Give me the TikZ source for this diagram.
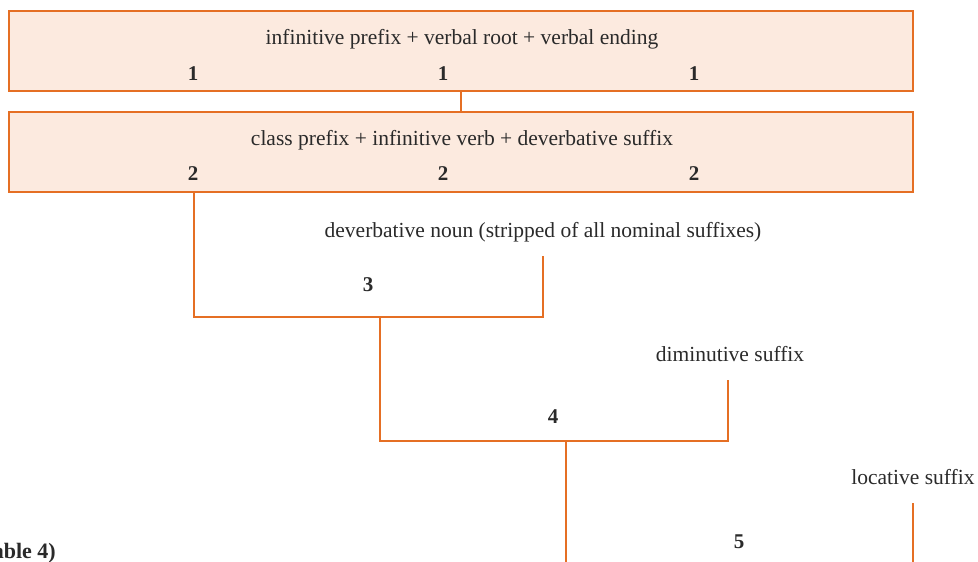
\documentclass[tikz,border=0pt]{standalone}
\usepackage{fontspec}
\setmainfont{Liberation Serif}
\definecolor{rule}{HTML}{E56F24}
\definecolor{panel}{HTML}{FCEADF}
\definecolor{ink}{HTML}{2A2A2A}
\begin{document}
\begin{tikzpicture}[x=1pt,y=-1pt,
  link/.style={draw=rule,line width=2.7pt},
  panelbox/.style={draw=rule,fill=panel,line width=2.8pt,minimum width=904pt,minimum height=80pt,inner sep=0pt},
  lbl/.style={text=ink,font=\fontsize{21.5}{25}\selectfont,anchor=base,inner sep=0pt},
  num/.style={text=ink,font=\fontsize{21}{25}\selectfont\bfseries,anchor=base,inner sep=0pt}]
\useasboundingbox (0,0) rectangle (978,562);

% the two stacked panels
\node[panelbox] (b1) at (461,51) {};
\node[panelbox] (b2) at (461,152) {};
\node[lbl] (t1) at (462,44) {infinitive prefix + verbal root + verbal ending};
\node[num] (n1a) at (193,80) {1};
\node[num] (n1b) at (443,80) {1};
\node[num] (n1c) at (694,80) {1};
\node[lbl] (t2) at (462,145) {class prefix + infinitive verb + deverbative suffix};
\node[num] (n2a) at (193,180) {2};
\node[num] (n2b) at (443,180) {2};
\node[num] (n2c) at (694,180) {2};
\draw[link] (b1.south) -- (b2.north);

% step 3
\node[lbl] (dn) at (543,237) {deverbative noun (stripped of all nominal suffixes)};
\node[num] (n3) at (368,291) {3};
\coordinate (l3) at (194,317);
\coordinate (r3) at (543,317);
\coordinate (t3) at (543,256);
\draw[link] (b2.south -| l3) -- (l3) -- (r3) -- (t3);

% step 4
\node[lbl] (dim) at (730,361) {diminutive suffix};
\node[num] (n4) at (553,423) {4};
\coordinate (j3) at (380,317);
\coordinate (l4) at (380,441);
\coordinate (r4) at (728,441);
\coordinate (t4) at (728,380);
\draw[link] (j3) -- (l4) -- (r4) -- (t4);

% step 5
\node[lbl] (loc) at (913,484) {locative suffix};
\node[num] (n5) at (739,548) {5};
\coordinate (j4) at (566,441);
\coordinate (d4) at (566,575);
\coordinate (t5) at (913,503);
\coordinate (d5) at (913,575);
\draw[link] (j4) -- (d4);
\draw[link] (t5) -- (d5);

% caption reference
\node[text=ink,font=\fontsize{22}{26}\selectfont\bfseries,anchor=base east,inner sep=0pt] (cap) at (56,558) {(Table 4)};
\end{tikzpicture}
\end{document}
